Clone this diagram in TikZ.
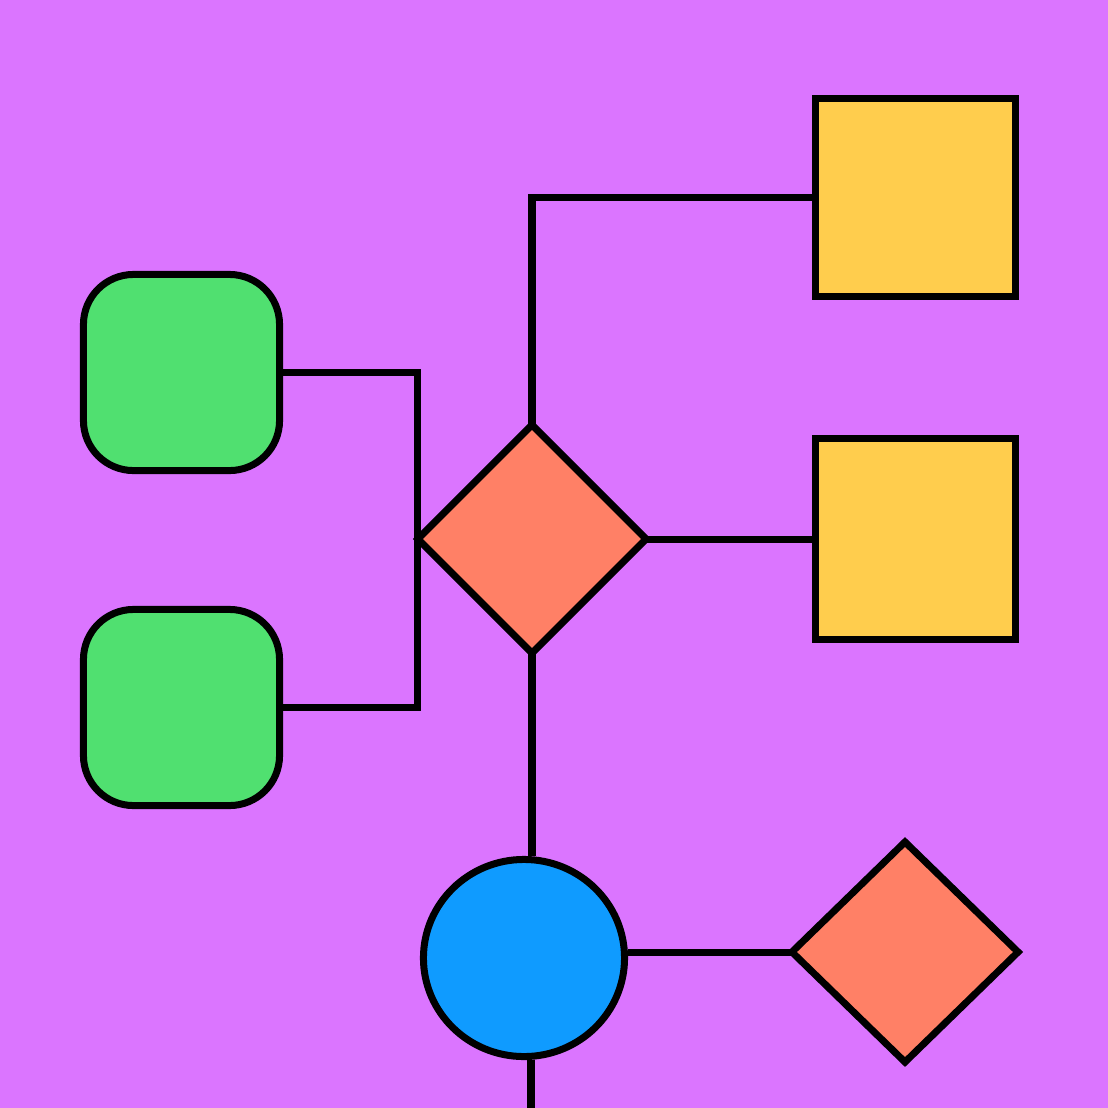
\documentclass[tikz,border=0pt]{standalone}
\usetikzlibrary{shapes.geometric,calc}
\definecolor{bgpurple}{HTML}{DB75FF}
\definecolor{gfill}{HTML}{50E070}
\definecolor{ofill}{HTML}{FF8066}
\definecolor{bfill}{HTML}{0F9BFF}
\definecolor{yfill}{HTML}{FFCD4D}
\tikzset{
  outl/.style={draw=black, line width=0.07cm, inner sep=0pt},
  greenbox/.style={outl, fill=gfill, rectangle, rounded corners=0.5cm, minimum width=1.96cm, minimum height=1.96cm},
  yellowbox/.style={outl, fill=yfill, rectangle, minimum width=2.0cm, minimum height=1.97cm},
  decision/.style={outl, fill=ofill, diamond, outer sep=0pt},
  bluecirc/.style={outl, fill=bfill, ellipse, minimum width=2.01cm, minimum height=1.97cm},
  conn/.style={draw=black, line width=0.07cm}
}
\begin{document}
\begin{tikzpicture}[x=0.01cm,y=-0.01cm]
\useasboundingbox (0,0) rectangle (1108,1108);
\fill[bgpurple] (0,0) rectangle (1108,1108);
\node[greenbox] (g1) at (181.5,372.5) {};
\node[greenbox] (g2) at (181.5,707.5) {};
\node[yellowbox] (y1) at (915.5,197.5) {};
\node[yellowbox, minimum height=2.0cm] (y2) at (915.5,539) {};
\node[decision, minimum width=2.28cm, minimum height=2.28cm] (d1) at (532,539) {};
\node[bluecirc] (c) at (524,958) {};
\node[decision, minimum width=2.26cm, minimum height=2.20cm] (d2) at (905,952) {};
\coordinate (bot) at (531,1112);
\draw[conn] (g1.east) -| (d1.west) |- (g2.east);
\draw[conn] (d1.north) |- (y1.west);
\draw[conn] (d1.east) -- (y2.west);
\draw[conn] (d1.south) -- (d1.south |- c.north);
\draw[conn] (d2.west) -- (c.east |- d2.west);
\draw[conn] (c.south -| bot) -- (bot);
\end{tikzpicture}
\end{document}
